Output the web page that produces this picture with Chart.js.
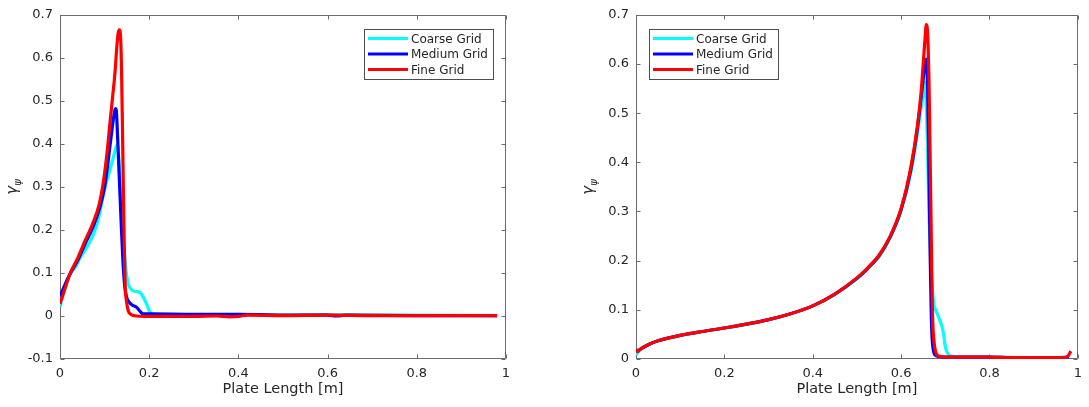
<!DOCTYPE html>
<html>
<head>
<meta charset="utf-8">
<script src="https://cdn.jsdelivr.net/npm/chart.js@4/dist/chart.umd.min.js"></script>
<style>
  html, body { margin: 0; padding: 0; background: #fff; }
  #wrap { position: relative; width: 1089px; height: 407px; }
  .panel { position: absolute; top: 0; }
</style>
</head>
<body>
<div id="wrap">
  <div class="panel" style="left:0"><canvas id="leftChart" width="520" height="407"></canvas></div>
  <div class="panel" style="left:576px"><canvas id="rightChart" width="513" height="407"></canvas></div>
</div>
<script>
// series names / colours
const seriesLabels = ['Coarse Grid', 'Medium Grid', 'Fine Grid'];
const seriesColors = ['#00ffff', '#0000ff', '#ff0000'];

// axis ticks
const xTicks = [0, 0.2, 0.4, 0.6, 0.8, 1];
const xTickLabels = ['0', '0.2', '0.4', '0.6', '0.8', '1'];
const leftYTicks = [-0.1, 0, 0.1, 0.2, 0.3, 0.4, 0.5, 0.6, 0.7];
const leftYTickLabels = ['-0.1', '0', '0.1', '0.2', '0.3', '0.4', '0.5', '0.6', '0.7'];
const rightYTicks = [0, 0.1, 0.2, 0.3, 0.4, 0.5, 0.6, 0.7];
const rightYTickLabels = ['0', '0.1', '0.2', '0.3', '0.4', '0.5', '0.6', '0.7'];

// left panel
const leftCoarseX = [0, 0.01, 0.022, 0.035, 0.045, 0.06, 0.075, 0.087, 0.097, 0.105, 0.112, 0.12, 0.128, 0.132, 0.135,
  0.139, 0.142, 0.146, 0.149, 0.153, 0.157, 0.165, 0.172, 0.18, 0.186, 0.194, 0.202, 0.21, 0.3, 0.4, 0.5, 0.6, 0.7, 0.8, 0.98];
const leftCoarseY = [0.022, 0.06, 0.095, 0.115, 0.135, 0.16, 0.19, 0.23, 0.28, 0.315, 0.34, 0.37, 0.398, 0.36, 0.295,
  0.23, 0.18, 0.13, 0.097, 0.075, 0.065, 0.058, 0.057, 0.054, 0.045, 0.028, 0.008, 0.004, 0.003, 0.003, 0.002, 0.003, 0.002, 0.002, 0.001];

const leftMediumX = [0, 0.01, 0.022, 0.04, 0.055, 0.075, 0.09, 0.1, 0.108, 0.115, 0.12, 0.124, 0.126, 0.129, 0.133,
  0.137, 0.141, 0.145, 0.149, 0.155, 0.161, 0.172, 0.18, 0.186, 0.2, 0.3, 0.4, 0.5, 0.6, 0.62, 0.64, 0.8, 0.98];
const leftMediumY = [0.045, 0.07, 0.097, 0.13, 0.165, 0.21, 0.255, 0.3, 0.36, 0.42, 0.46, 0.482, 0.48, 0.42, 0.32,
  0.22, 0.13, 0.07, 0.045, 0.032, 0.026, 0.02, 0.01, 0.005, 0.005, 0.004, 0.004, 0.002, 0.002, 0.0, 0.002, 0.001, 0.001];

const leftFineX = [0, 0.01, 0.022, 0.04, 0.055, 0.075, 0.088, 0.097, 0.105, 0.112, 0.118, 0.123, 0.127, 0.130, 0.133,
  0.136, 0.138, 0.140, 0.142, 0.144, 0.146, 0.149, 0.153, 0.16, 0.172, 0.2, 0.25, 0.3, 0.35, 0.38, 0.4, 0.42, 0.5, 0.6, 0.7, 0.8, 0.9, 0.98];
const leftFineY = [0.028, 0.06, 0.097, 0.135, 0.172, 0.219, 0.26, 0.31, 0.375, 0.448, 0.51, 0.562, 0.62, 0.655, 0.665,
  0.645, 0.57, 0.44, 0.3, 0.17, 0.075, 0.035, 0.012, 0.003, 0.0, -0.001, -0.001, -0.001, 0.0, -0.002, -0.001, 0.002, 0.001, 0.002, 0.001, 0.001, 0.001, 0.001];

// right panel
const rightCoarseX = [0, 0.005, 0.01, 0.03, 0.05, 0.1, 0.15, 0.2, 0.25, 0.3, 0.35, 0.4, 0.45, 0.5, 0.525, 0.55, 0.575, 0.6, 0.622,
  0.637, 0.645, 0.65, 0.654, 0.657, 0.66, 0.663, 0.667, 0.671, 0.674, 0.678, 0.682, 0.688, 0.693, 0.697, 0.7, 0.705, 0.711, 0.72, 0.8, 0.9, 0.98];
const rightCoarseY = [0.008, 0.015, 0.02, 0.03, 0.037, 0.048, 0.056, 0.063, 0.071, 0.08, 0.092, 0.108, 0.131, 0.163, 0.184, 0.208, 0.246, 0.302, 0.38,
  0.46, 0.51, 0.54, 0.563, 0.52, 0.42, 0.3, 0.2, 0.14, 0.112, 0.1, 0.092, 0.078, 0.065, 0.045, 0.025, 0.012, 0.006, 0.005, 0.004, 0.003, 0.003];

const rightMediumX = [0, 0.01, 0.03, 0.05, 0.1, 0.15, 0.2, 0.25, 0.3, 0.35, 0.4, 0.45, 0.5, 0.525, 0.55, 0.575, 0.6, 0.622, 0.637,
  0.645, 0.65, 0.654, 0.657, 0.66, 0.662, 0.664, 0.666, 0.668, 0.67, 0.673, 0.677, 0.685, 0.7, 0.75, 0.8, 0.85, 0.9, 0.95, 0.98];
const rightMediumY = [0.015, 0.02, 0.03, 0.037, 0.048, 0.056, 0.063, 0.071, 0.08, 0.092, 0.108, 0.132, 0.164, 0.185, 0.21, 0.248, 0.304, 0.385, 0.47,
  0.53, 0.57, 0.6, 0.61, 0.55, 0.44, 0.32, 0.2, 0.1, 0.045, 0.018, 0.008, 0.005, 0.004, 0.004, 0.004, 0.003, 0.003, 0.003, 0.004];

const rightFineX = [0, 0.004, 0.01, 0.03, 0.05, 0.1, 0.15, 0.2, 0.25, 0.3, 0.35, 0.4, 0.45, 0.5, 0.525, 0.55, 0.575, 0.6, 0.622, 0.637, 0.645,
  0.65, 0.654, 0.657, 0.659, 0.661, 0.663, 0.665, 0.667, 0.669, 0.671, 0.674, 0.678, 0.685, 0.7, 0.75, 0.8, 0.85, 0.9, 0.95, 0.97, 0.978, 0.984];
const rightFineY = [0.02, 0.015, 0.02, 0.03, 0.037, 0.048, 0.056, 0.063, 0.071, 0.08, 0.092, 0.108, 0.132, 0.165, 0.186, 0.211, 0.249, 0.306, 0.39, 0.475, 0.54,
  0.6, 0.65, 0.68, 0.675, 0.64, 0.57, 0.45, 0.33, 0.2, 0.09, 0.04, 0.015, 0.006, 0.004, 0.004, 0.004, 0.003, 0.003, 0.003, 0.003, 0.006, 0.016];

const FONT = '"DejaVu Sans", "Liberation Sans", sans-serif';
const TEXT_COLOR = '#262626';
const AXIS_COLOR = '#6b6b6b';

function zip(xs, ys) {
  return xs.map((x, i) => ({ x: x, y: ys[i] }));
}

// box with inward ticks on all four sides, like a MATLAB axes
const boxAxes = {
  id: 'boxAxes',
  beforeDatasetsDraw(chart) {
    const { ctx, chartArea: a, scales: { x, y } } = chart;
    const L = Math.round(a.left) + 0.5, R = Math.round(a.right) - 0.5;
    const T = Math.round(a.top) + 0.5, B = Math.round(a.bottom) - 0.5;
    const tl = 4;
    ctx.save();
    ctx.strokeStyle = AXIS_COLOR;
    ctx.lineWidth = 1;
    ctx.beginPath();
    ctx.rect(L, T, R - L, B - T);
    x.ticks.forEach(t => {
      const px = Math.round(x.getPixelForValue(t.value)) + 0.5;
      ctx.moveTo(px, B); ctx.lineTo(px, B - tl);
      ctx.moveTo(px, T); ctx.lineTo(px, T + tl);
    });
    y.ticks.forEach(t => {
      const py = Math.round(y.getPixelForValue(t.value)) + 0.5;
      ctx.moveTo(L, py); ctx.lineTo(L + tl, py);
      ctx.moveTo(R, py); ctx.lineTo(R - tl, py);
    });
    ctx.stroke();
    ctx.restore();
  },
  afterDraw(chart, args, opts) {
    const { ctx, chartArea: a } = chart;
    ctx.save();
    // y label: gamma with psi subscript
    ctx.fillStyle = TEXT_COLOR;
    ctx.translate(opts.yLabelX, (a.top + a.bottom) / 2);
    ctx.rotate(-Math.PI / 2);
    ctx.textBaseline = 'middle';
    ctx.font = 'italic 15px ' + FONT;
    const wg = ctx.measureText('γ').width;
    ctx.font = 'italic 10px ' + FONT;
    const wp = ctx.measureText('ψ').width;
    const start = -(wg + wp) / 2;
    ctx.font = 'italic 15px ' + FONT;
    ctx.fillText('γ', start, -1);
    ctx.font = 'italic 10px ' + FONT;
    ctx.fillText('ψ', start + wg, 4);
    ctx.restore();
  }
};

// legend box drawn inside the plot area
const innerLegend = {
  id: 'innerLegend',
  afterDatasetsDraw(chart, args, opts) {
    const { ctx, chartArea: a } = chart;
    const sets = chart.data.datasets;
    ctx.save();
    ctx.font = '12px ' + FONT;
    const textW = Math.max(...sets.map(d => ctx.measureText(d.label).width));
    const lineLen = 40;
    const w = Math.round(4 + lineLen + 3 + textW + 5);
    const h = 50;
    const left = opts.side === 'right' ? Math.round(a.right - 13 - w) : Math.round(a.left + 13);
    const top = Math.round(a.top + 14);
    ctx.fillStyle = '#ffffff';
    ctx.fillRect(left, top, w, h);
    ctx.strokeStyle = '#4d4d4d';
    ctx.lineWidth = 1;
    ctx.strokeRect(left + 0.5, top + 0.5, w, h);
    sets.forEach((d, i) => {
      const cy = top + 9.5 + i * 15.5;
      ctx.strokeStyle = d.borderColor;
      ctx.lineWidth = 3;
      ctx.beginPath();
      ctx.moveTo(left + 4, cy);
      ctx.lineTo(left + 4 + lineLen, cy);
      ctx.stroke();
      ctx.fillStyle = TEXT_COLOR;
      ctx.textBaseline = 'middle';
      ctx.fillText(d.label, left + 4 + lineLen + 3, cy + 1);
    });
    ctx.restore();
  }
};

function buildDatasets(series) {
  return series.map((pts, i) => ({
    label: seriesLabels[i],
    data: pts,
    borderColor: seriesColors[i],
    backgroundColor: seriesColors[i],
    borderWidth: 3.2,
    pointRadius: 0,
    fill: false,
    cubicInterpolationMode: 'monotone',
    order: series.length - i // fine grid on top
  }));
}

function makeChart(id, series, yMin, yTicks, yTickLabels, legendSide, yLabelX, rightPad) {
  return new Chart(document.getElementById(id), {
    type: 'line',
    data: { datasets: buildDatasets(series) },
    options: {
      responsive: false,
      animation: false,
      layout: { padding: { top: 10, right: rightPad, left: 0, bottom: 0 } },
      plugins: {
        legend: { display: false },
        tooltip: { enabled: false },
        innerLegend: { side: legendSide },
        boxAxes: { yLabelX: yLabelX }
      },
      scales: {
        x: {
          type: 'linear',
          min: 0,
          max: 1,
          afterBuildTicks: axis => { axis.ticks = xTicks.map(v => ({ value: v })); },
          afterFit: scale => { scale.height = 48; },
          grid: { display: false, drawTicks: false },
          border: { display: false },
          ticks: {
            padding: 7,
            color: TEXT_COLOR,
            font: { family: FONT, size: 13 },
            maxRotation: 0,
            callback: (v, i) => xTickLabels[i]
          },
          title: {
            display: true,
            text: 'Plate Length [m]',
            color: TEXT_COLOR,
            font: { family: FONT, size: 14.5 },
            padding: { top: 0, bottom: 9 }
          }
        },
        y: {
          type: 'linear',
          min: yMin,
          max: 0.7,
          afterBuildTicks: axis => { axis.ticks = yTicks.map(v => ({ value: v })); },
          afterFit: scale => { scale.width = 60; },
          grid: { display: false, drawTicks: false },
          border: { display: false },
          ticks: {
            padding: 7,
            color: TEXT_COLOR,
            font: { family: FONT, size: 13 },
            callback: (v, i) => yTickLabels[i]
          }
        }
      }
    },
    plugins: [boxAxes, innerLegend]
  });
}

makeChart('leftChart',
  [zip(leftCoarseX, leftCoarseY), zip(leftMediumX, leftMediumY), zip(leftFineX, leftFineY)],
  -0.1, leftYTicks, leftYTickLabels, 'right', 14, 14);

makeChart('rightChart',
  [zip(rightCoarseX, rightCoarseY), zip(rightMediumX, rightMediumY), zip(rightFineX, rightFineY)],
  0, rightYTicks, rightYTickLabels, 'left', 14, 7);
</script>
</body>
</html>
